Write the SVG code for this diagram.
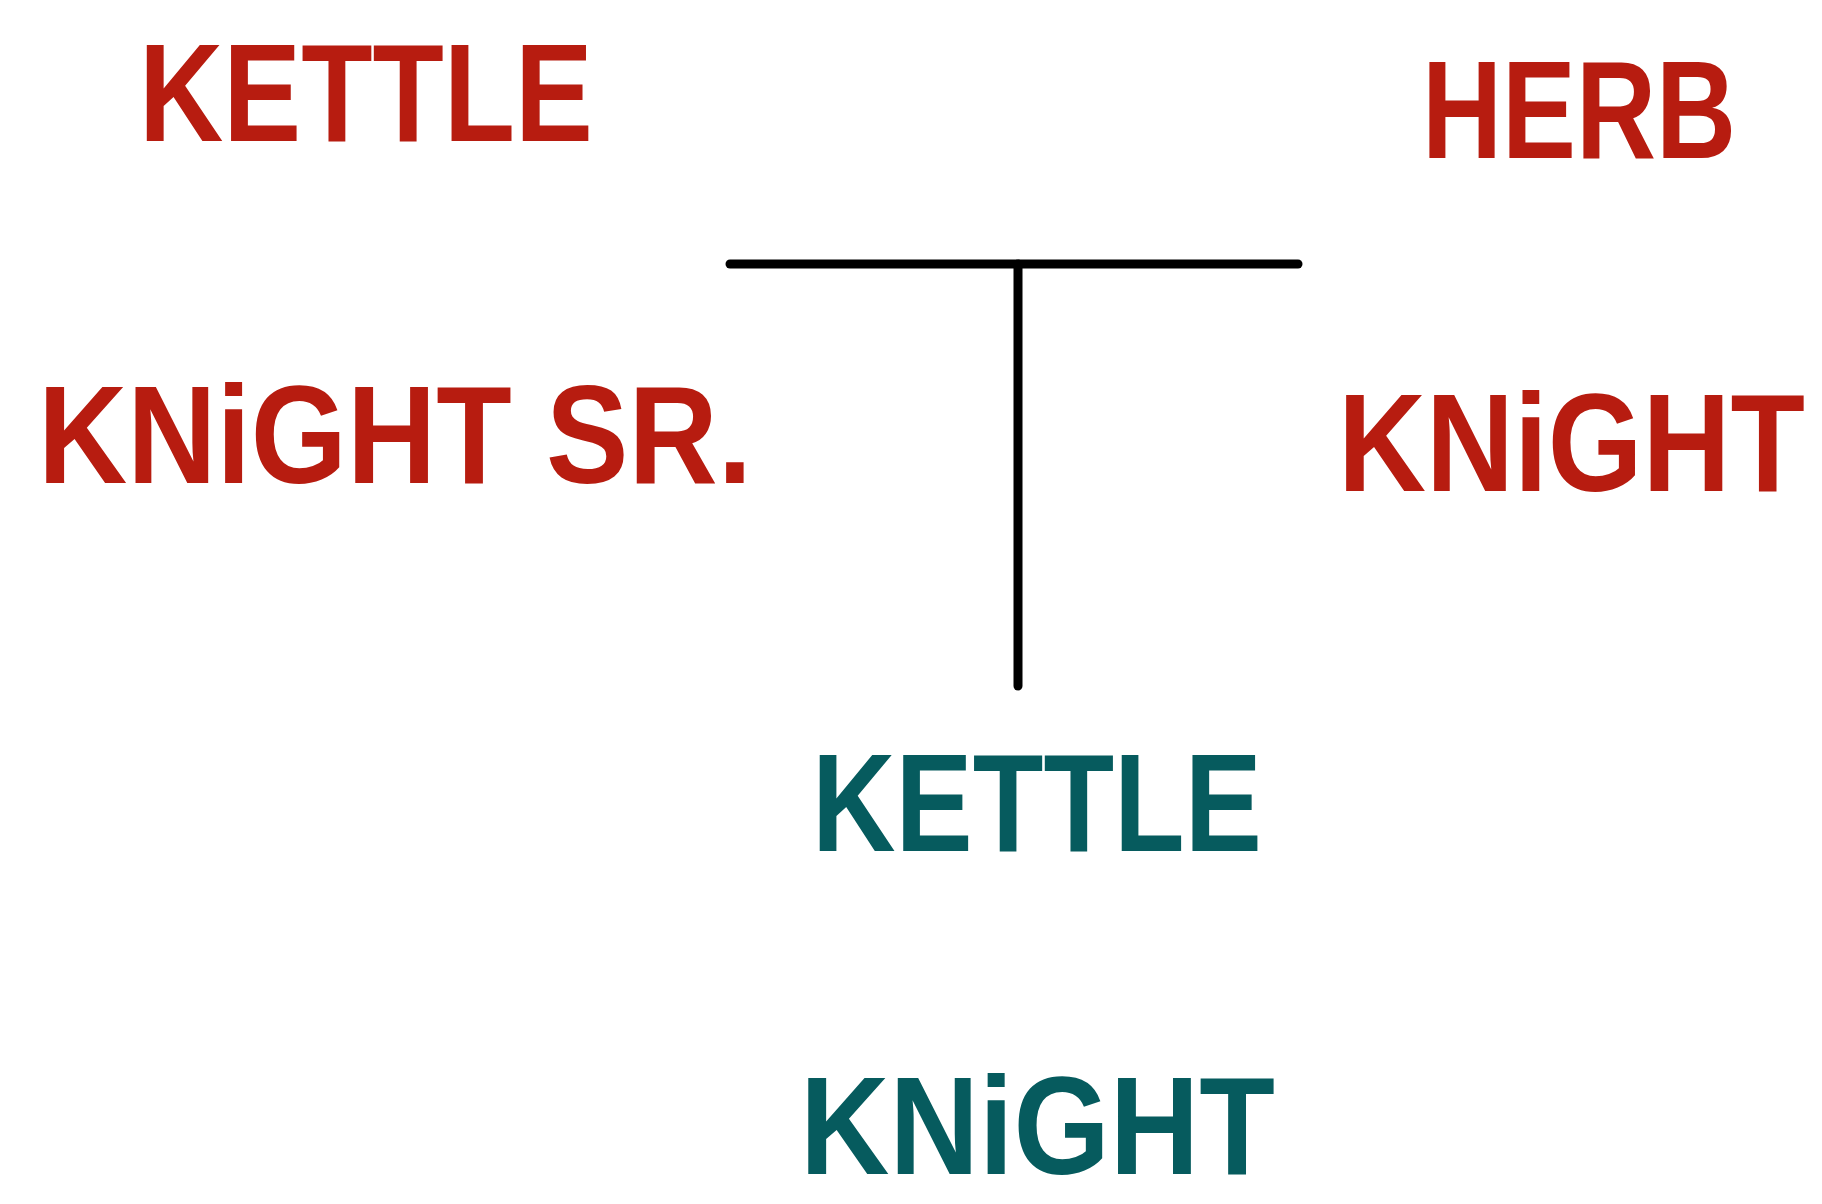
<svg xmlns="http://www.w3.org/2000/svg" width="1822" height="1204" viewBox="0 0 1822 1204">
<style>
.lbl{font-family:"Liberation Sans",Arial,sans-serif;font-weight:bold;font-size:140px}
.red{fill:#B71C10}
.teal{fill:#065B5E}
.conn{stroke:#000;stroke-width:9;stroke-linecap:round;fill:none}
</style>
<rect width="1822" height="1204" fill="#fff"/>
<g id="kettle-sr"><text class="lbl red" x="139" y="141" textLength="454" lengthAdjust="spacingAndGlyphs">KETTLE</text></g>
<g id="herb"><text class="lbl red" x="1422" y="158" textLength="314" lengthAdjust="spacingAndGlyphs">HERB</text></g>
<g id="knight-sr"><text class="lbl red" x="38" y="483" textLength="714" lengthAdjust="spacingAndGlyphs">KNiGHT SR.</text></g>
<g id="knight-mother" transform="translate(1338,491) scale(0.87,1)"><text class="lbl red" x="0" y="0">KNiGHT</text></g>
<g id="kettle-child"><text class="lbl teal" x="812" y="851" textLength="450" lengthAdjust="spacingAndGlyphs">KETTLE</text></g>
<g id="knight-child"><text class="lbl teal" x="800" y="1174" textLength="475" lengthAdjust="spacingAndGlyphs">KNiGHT</text></g>
<g id="connectors">
<path class="conn" d="M730 264 H1298"/>
<path class="conn" d="M1018 264 V686"/>
</g>
</svg>
